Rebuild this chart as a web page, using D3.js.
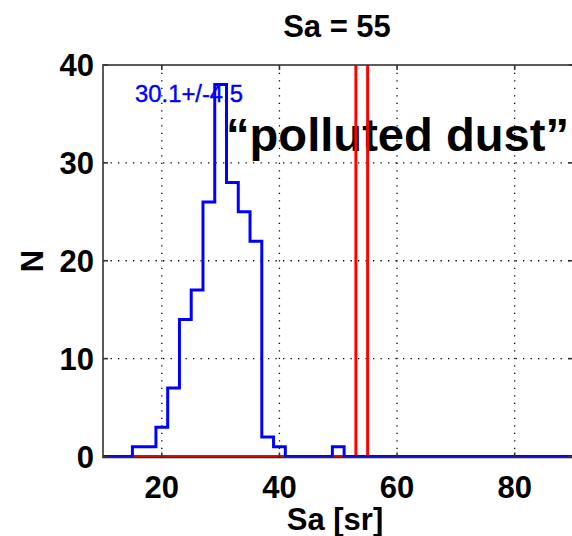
<!DOCTYPE html>
<html><head><meta charset="utf-8">
<script src="https://cdn.jsdelivr.net/npm/d3@7"></script>
<style>body{margin:0;background:#fff;overflow:hidden} svg{display:block}</style>
</head><body>
<script>
// ---- data ----
const binCenters = [10,12,14,16,18,20,22,24,26,28,30,32,34,36,38,40,42,44,46,48,50,52,54,56,58,60,62,64,66,68,70,72,74,76,78,80,82,84,86,88,90];
const blueCounts = [0,0,0,1,1,3,7,14,17,26,38,28,25,22,2,1,0,0,0,0,1,0,0,0,0,0,0,0,0,0,0,0,0,0,0,0,0,0,0,0,0];
const redCounts  = [0,0,0,0,0,0,0,0,0,0,0,0,0,0,0,0,0,0,0,0,0,0,120,0,0,0,0,0,0,0,0,0,0,0,0,0,0,0,0,0,0];
const binWidth = 2;
const xTicks = [20,40,60,80];
const yTicks = [0,10,20,30,40];
const xGrid = [20,40,60,80];
const yGrid = [10,20,30];
const titleText = "Sa = 55";
const xLabel = "Sa [sr]";
const yLabel = "N";
const statText = "30.1+/-4.5";
const noteText = "\u201Cpolluted dust\u201D";

const W = 572, H = 536;
const x = d3.scaleLinear().domain([10,90]).range([103,573.5]);
const y = d3.scaleLinear().domain([0,40]).range([456.5,65]);

const svg = d3.select("body").append("svg").attr("width",W).attr("height",H);
const font = "'Liberation Sans', Arial, Helvetica, sans-serif";

svg.append("defs").append("clipPath").attr("id","clip")
  .append("rect").attr("x",x(10)).attr("y",y(40)).attr("width",x(90)-x(10)).attr("height",y(0)-y(40)+3);

// grid
const g = svg.append("g");
g.selectAll(".vg").data(xGrid).join("line")
  .attr("x1",d=>x(d)).attr("x2",d=>x(d)).attr("y1",y(0)).attr("y2",y(40))
  .attr("stroke","#000").attr("stroke-width",1.3).attr("stroke-dasharray","1.3,6.2");
g.selectAll(".hg").data(yGrid).join("line")
  .attr("y1",d=>y(d)).attr("y2",d=>y(d)).attr("x1",x(10)).attr("x2",x(90))
  .attr("stroke","#000").attr("stroke-width",1.3).attr("stroke-dasharray","1.3,6.2");

// texts inside plot
svg.append("text").attr("x",135).attr("y",101.5)
  .attr("font-family",font).attr("font-size",23).attr("fill","#0000ff")
  .attr("stroke","#0000ff").attr("stroke-width",0.4)
  .attr("textLength",108).attr("lengthAdjust","spacingAndGlyphs").text(statText);
svg.append("text").attr("x",226).attr("y",151)
  .attr("font-family",font).attr("font-size",47).attr("font-weight","bold").attr("fill","#000")
  .attr("textLength",343).attr("lengthAdjust","spacingAndGlyphs").text(noteText);

// stairs
function stairs(counts){
  const pts = binCenters.map((c,i)=>[c-binWidth/2, counts[i]]);
  pts.push([binCenters[binCenters.length-1]+binWidth/2, counts[counts.length-1]]);
  return pts;
}
const line = d3.line().x(d=>x(d[0])).y(d=>y(d[1])).curve(d3.curveStepAfter);
const plot = svg.append("g").attr("clip-path","url(#clip)");
plot.append("path").attr("d",line(stairs(redCounts))).attr("fill","none")
  .attr("stroke","#ff0000").attr("stroke-width",3);
plot.append("path").attr("d",line(stairs(blueCounts))).attr("fill","none")
  .attr("stroke","#0000ff").attr("stroke-width",3);

// axes box
const ax = svg.append("g").attr("stroke","#333").attr("stroke-width",1.6).attr("fill","none");
ax.append("rect").attr("x",x(10)).attr("y",y(40)).attr("width",x(90)-x(10)).attr("height",457.5-y(40));
// ticks (inward)
ax.selectAll(".bt").data(xTicks).join("line")
  .attr("x1",d=>x(d)).attr("x2",d=>x(d)).attr("y1",457.5).attr("y2",452.5);
ax.selectAll(".tt").data(xTicks).join("line")
  .attr("x1",d=>x(d)).attr("x2",d=>x(d)).attr("y1",y(40)).attr("y2",y(40)+5);
ax.selectAll(".lt").data(yTicks).join("line")
  .attr("y1",d=>y(d)).attr("y2",d=>y(d)).attr("x1",x(10)).attr("x2",x(10)+5);
ax.selectAll(".rt").data(yTicks).join("line")
  .attr("y1",d=>y(d)).attr("y2",d=>y(d)).attr("x1",x(90)).attr("x2",x(90)-5);

// tick labels
svg.selectAll(".xl").data(xTicks).join("text")
  .attr("x",d=>x(d)).attr("y",497.5).attr("text-anchor","middle")
  .attr("font-family",font).attr("font-size",31).attr("font-weight","bold").text(d=>d);
svg.selectAll(".yl").data(yTicks).join("text")
  .attr("x",94).attr("y",d=>y(d)+11).attr("text-anchor","end")
  .attr("font-family",font).attr("font-size",31).attr("font-weight","bold").text(d=>d);

// title & labels
svg.append("text").attr("x",337).attr("y",37).attr("text-anchor","middle")
  .attr("font-family",font).attr("font-size",31).attr("font-weight","bold").text(titleText);
svg.append("text").attr("x",335).attr("y",530).attr("text-anchor","middle")
  .attr("font-family",font).attr("font-size",31).attr("font-weight","bold").text(xLabel);
svg.append("text").attr("transform","translate(43,261) rotate(-90)").attr("text-anchor","middle")
  .attr("font-family",font).attr("font-size",31).attr("font-weight","bold").text(yLabel);
</script>
</body></html>
